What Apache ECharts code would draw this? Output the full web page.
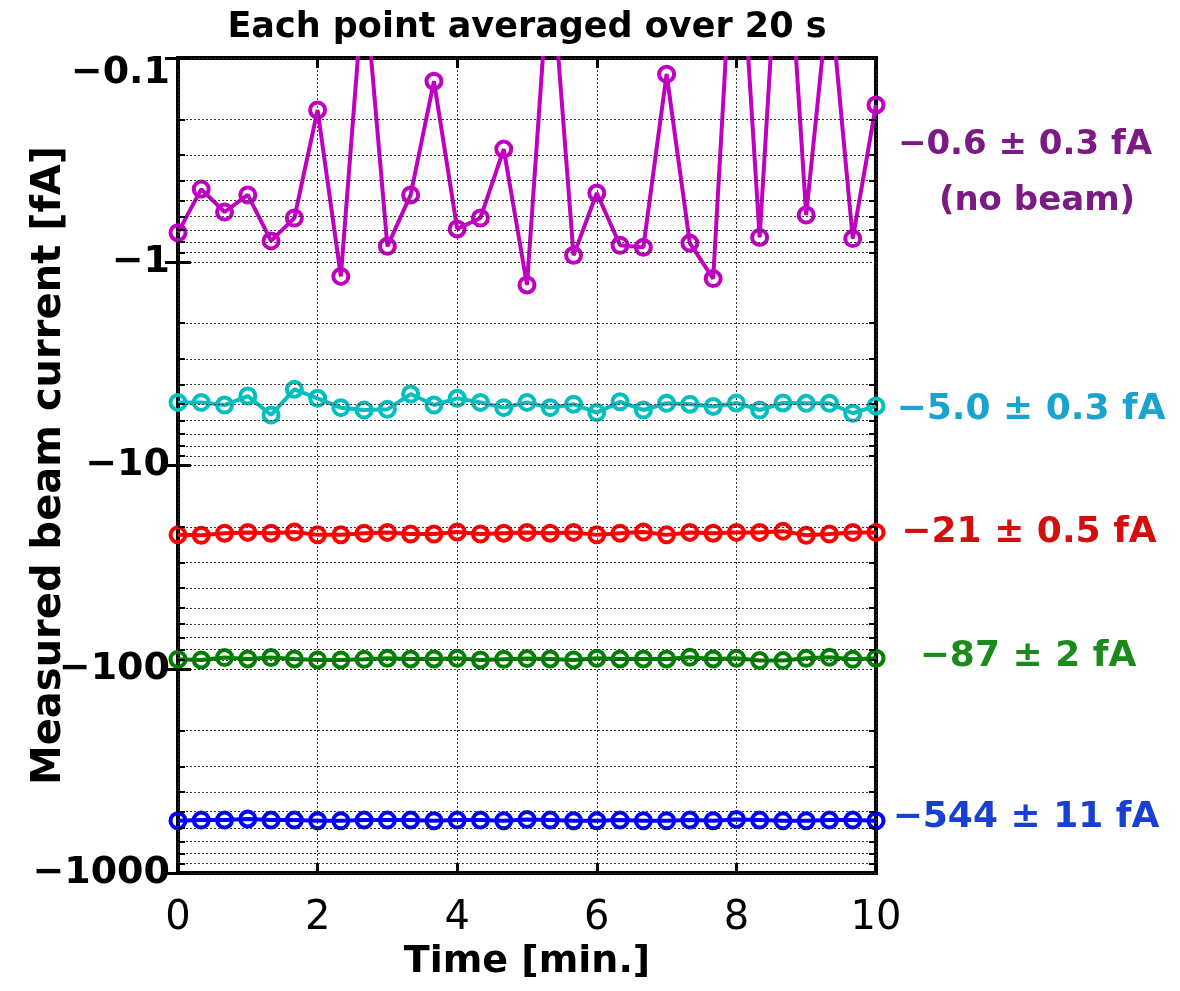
<!DOCTYPE html>
<html>
<head>
<meta charset="utf-8">
<title>Measured beam current</title>
<script src="https://cdn.jsdelivr.net/npm/echarts@6.0.0/dist/echarts.min.js"></script>
<style>
  html, body { margin: 0; padding: 0; background: #fff; }
  #chart { width: 1180px; height: 991px; }
</style>
</head>
<body>
<div id="chart"></div>
<script>
// time of every 20 s average [min.]
const timeMin = [0, 0.333, 0.667, 1, 1.333, 1.667, 2, 2.333, 2.667, 3, 3.333, 3.667, 4, 4.333, 4.667,
  5, 5.333, 5.667, 6, 6.333, 6.667, 7, 7.333, 7.667, 8, 8.333, 8.667, 9, 9.333, 9.667, 10];

// measured beam current [fA], one list per beam setting
const noBeam = [-0.72, -0.44, -0.57, -0.47, -0.79, -0.61, -0.18, -1.18, -0.04, -0.84, -0.47, -0.13, -0.69, -0.61, -0.28,
  -1.30, -0.03, -0.93, -0.46, -0.83, -0.85, -0.12, -0.81, -1.21, -0.012, -0.76, -0.01, -0.59, -0.045, -0.77, -0.17];
const beam5 = [-4.9, -4.9, -5.05, -4.56, -5.65, -4.23, -4.68, -5.2, -5.34, -5.3, -4.46, -5.05, -4.68, -4.9, -5.2,
  -4.9, -5.2, -5.0, -5.5, -4.87, -5.34, -4.95, -5.0, -5.13, -4.93, -5.34, -4.93, -4.95, -4.95, -5.54, -5.1];
const beam21 = [-21.9, -22.0, -21.5, -21.3, -21.5, -21.2, -21.9, -21.9, -21.5, -21.3, -21.7, -21.7, -21.2, -21.7, -21.5,
  -21.3, -21.5, -21.3, -21.9, -21.5, -21.2, -21.9, -21.3, -21.5, -21.3, -21.3, -21.0, -22.0, -21.7, -21.3, -21.3];
const beam87 = [-89.3, -90.0, -87.6, -89.0, -87.6, -89.0, -90.0, -90.0, -89.3, -88.3, -89.0, -89.0, -88.3, -90.0, -89.3,
  -88.6, -89.0, -90.0, -88.3, -89.0, -89.0, -89.0, -87.3, -89.0, -88.3, -90.7, -90.7, -88.3, -87.3, -89.3, -88.3];
const beam544 = [-554, -550, -550, -543, -550, -550, -554, -554, -550, -550, -550, -554, -550, -550, -554,
  -546, -550, -554, -554, -550, -554, -554, -550, -554, -546, -550, -554, -554, -550, -550, -554];

// y axis: decades and the minor steps inside each decade
const decades = [0.1, 1, 10, 100];
const minorSteps = [2, 3, 4, 5, 6, 7, 8, 9];

const FONT = 'DejaVu Sans';

const chart = echarts.init(document.getElementById('chart'), null, { renderer: 'canvas' });

function lineSeries(name, values, color) {
  return {
    name: name,
    type: 'line',
    // log axis runs on the magnitude, drawn downwards (inverse)
    data: timeMin.map((t, i) => [t, -values[i]]),
    symbol: 'circle',
    symbolSize: 15,
    clip: true,
    z: 3,
    lineStyle: { color: color, width: 4 },
    itemStyle: { color: 'rgba(0,0,0,0)', borderColor: color, borderWidth: 4 }
  };
}

// minor grid lines + the small ticks on the left/right frame
let minorVals = [];
decades.forEach(d => minorSteps.forEach(k => minorVals.push(d * k)));
const minorGrid = minorVals.map(v => ({ yAxis: v }));
const minorTicks = [];
minorVals.forEach(v => {
  minorTicks.push([{ coord: [0, v] }, { coord: [0.1, v] }]);
  minorTicks.push([{ coord: [9.9, v] }, { coord: [10, v] }]);
});
minorTicks.forEach(p => { p[0].lineStyle = { type: 'solid', color: '#000', width: 2 }; });

const gridDots = { color: '#333', width: 1, type: [2, 2] };

function textEl(x, y, txt, color, size) {
  return {
    type: 'text', x: x, y: y,
    style: {
      text: txt, fill: color, font: 'bold ' + size + 'px "' + FONT + '"',
      align: 'center', verticalAlign: 'middle', textAlign: 'center', textVerticalAlign: 'middle'
    }
  };
}

const option = {
  animation: false,
  backgroundColor: '#fff',
  grid: {
    left: 178, right: 304, top: 58, bottom: 118,
    containLabel: false, outerBoundsMode: 'none',
    show: true, borderColor: '#000', borderWidth: 4, backgroundColor: 'transparent'
  },
  xAxis: [{
    type: 'value', min: 0, max: 10, interval: 2,
    position: 'bottom',
    name: 'Time [min.]', nameLocation: 'middle', nameGap: 70, nameMoveOverlap: false,
    nameTextStyle: { fontFamily: FONT, fontSize: 38, fontWeight: 'bold', color: '#000' },
    axisLine: { show: false },
    axisTick: { inside: true, length: 10, lineStyle: { color: '#000', width: 3 } },
    axisLabel: { fontFamily: FONT, fontSize: 40, color: '#000', margin: 26 },
    splitLine: { show: true, lineStyle: gridDots }
  }, {
    type: 'value', min: 0, max: 10, interval: 2,
    position: 'top',
    axisLine: { show: false },
    axisTick: { inside: true, length: 10, lineStyle: { color: '#000', width: 3 } },
    axisLabel: { show: false },
    splitLine: { show: false }
  }],
  yAxis: [{
    type: 'log', logBase: 10, min: 0.1, max: 1000, inverse: true,
    position: 'left',
    name: 'Measured beam current [fA]', nameLocation: 'middle', nameRotate: 90, nameGap: 108,
    nameMoveOverlap: false,
    nameTextStyle: { fontFamily: FONT, fontSize: 40, fontWeight: 'bold', color: '#000' },
    axisLine: { show: false },
    axisTick: { inside: true, length: 13, lineStyle: { color: '#000', width: 3 } },
    axisLabel: {
      fontFamily: FONT, fontSize: 38, fontWeight: 'bold', color: '#000', margin: 8,
      formatter: v => (v === 0.1 ? '{top|\u2212' + v + '}' : '\u2212' + v),
      rich: { top: { fontFamily: FONT, fontSize: 38, fontWeight: 'bold', color: '#000', padding: [30, 0, 0, 0] } }
    },
    splitLine: { show: true, lineStyle: gridDots }
  }, {
    type: 'log', logBase: 10, min: 0.1, max: 1000, inverse: true,
    position: 'right',
    axisLine: { show: false },
    axisTick: { inside: true, length: 13, lineStyle: { color: '#000', width: 3 } },
    axisLabel: { show: false },
    splitLine: { show: false }
  }],
  series: [
    {
      name: 'minor grid',
      type: 'line',
      data: [],
      z: 1,
      silent: true,
      markLine: {
        silent: true,
        symbol: 'none',
        label: { show: false },
        lineStyle: gridDots,
        data: minorGrid.concat(minorTicks)
      }
    },
    lineSeries('no beam', noBeam, '#c000c0'),
    lineSeries('5 fA', beam5, '#00bfbf'),
    lineSeries('21 fA', beam21, '#ff0000'),
    lineSeries('87 fA', beam87, '#008000'),
    lineSeries('544 fA', beam544, '#0000ff')
  ],
  graphic: [
    textEl(527, 28, 'Each point averaged over 20 s', '#000', 35),
    textEl(1025, 145, '\u22120.6 \u00b1 0.3 fA', '#7b1a84', 34),
    textEl(1037, 201, '(no beam)', '#7b1a84', 34),
    textEl(1031, 410, '\u22125.0 \u00b1 0.3 fA', '#19a3cf', 36),
    textEl(1029, 533, '\u221221 \u00b1 0.5 fA', '#d40d0d', 36),
    textEl(1028, 657, '\u221287 \u00b1 2 fA', '#1a8a1a', 36),
    textEl(1026, 818, '\u2212544 \u00b1 11 fA', '#1a3fd4', 36)
  ]
};

chart.setOption(option);
</script>
</body>
</html>
